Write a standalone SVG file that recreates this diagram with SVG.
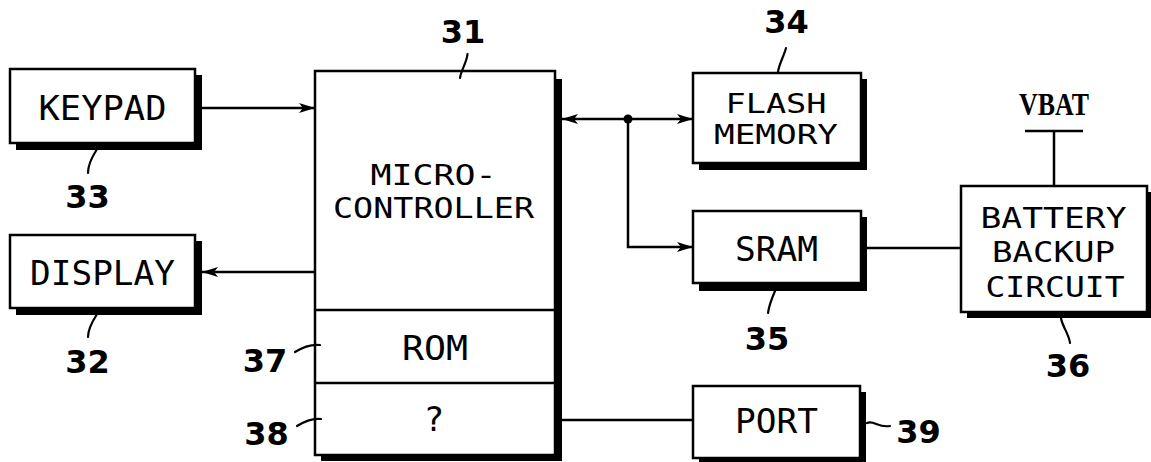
<svg xmlns="http://www.w3.org/2000/svg" width="1151" height="462" viewBox="0 0 1151 462">
  <style>
    .box { fill: #fff; stroke: #000; stroke-width: 2.5; }
    .shadow { fill: #000; }
    .line { fill: none; stroke: #000; stroke-width: 2.5; }
    .lead { fill: none; stroke: #000; stroke-width: 2.2; stroke-linecap: round; }
    .lbl { font-family: "DejaVu Sans Mono", "Liberation Mono", monospace; font-size: 34px; text-anchor: middle; fill: #000; }
    .lbl2 { font-family: "DejaVu Sans Mono", "Liberation Mono", monospace; font-size: 29px; text-anchor: middle; fill: #000; }
    .lbl3 { font-family: "DejaVu Sans Mono", "Liberation Mono", monospace; font-size: 27px; text-anchor: middle; fill: #000; }
    .num { font-family: "DejaVu Sans", "Liberation Sans", sans-serif; font-weight: bold; font-size: 32px; text-anchor: middle; fill: #000; }
    .vbat { font-family: "Liberation Serif", "DejaVu Serif", serif; font-weight: bold; font-size: 32px; text-anchor: middle; fill: #000; }
  </style>
  <defs>
    <marker id="arr" markerUnits="userSpaceOnUse" viewBox="0 0 16 10" refX="16" refY="5" markerWidth="16" markerHeight="10" orient="auto-start-reverse">
      <path d="M0,0 L16,5 L0,10 L4,5 z" fill="#000"/>
    </marker>
  </defs>

  <g id="keypad">
    <rect class="shadow" x="16" y="75" width="186" height="75"/>
    <rect class="box" x="10" y="69" width="185" height="74"/>
    <text class="lbl" x="102.5" y="120" textLength="128" lengthAdjust="spacingAndGlyphs">KEYPAD</text>
    <path class="lead" d="M96.5,150 C92,157 88,165 88,173"/>
    <text class="num" x="87.5" y="208">33</text>
  </g>

  <g id="display">
    <rect class="shadow" x="16" y="241" width="186" height="74"/>
    <rect class="box" x="10" y="235" width="185" height="73"/>
    <text class="lbl" x="102.5" y="285" textLength="145" lengthAdjust="spacingAndGlyphs">DISPLAY</text>
    <path class="lead" d="M96.5,315 C92,322 88,329 88,337"/>
    <text class="num" x="87.5" y="373">32</text>
  </g>

  <g id="microcontroller">
    <rect class="shadow" x="321" y="79" width="241" height="382"/>
    <rect class="box" x="315" y="71" width="240" height="384"/>
    <line class="line" x1="315" y1="310" x2="555" y2="310"/>
    <line class="line" x1="315" y1="383" x2="555" y2="383"/>
    <text class="lbl2" x="433.5" y="185" textLength="126" lengthAdjust="spacingAndGlyphs">MICRO-</text>
    <text class="lbl2" x="433.5" y="218" textLength="201" lengthAdjust="spacingAndGlyphs">CONTROLLER</text>
    <path class="lead" d="M467.5,54 C467,62 461,70 460,78"/>
    <text class="num" x="463" y="43">31</text>
  </g>

  <g id="rom">
    <text class="lbl" x="435" y="360" textLength="66" lengthAdjust="spacingAndGlyphs">ROM</text>
    <path class="lead" d="M295,352 C303,347 312,344 320,345"/>
    <text class="num" x="265" y="372">37</text>
  </g>

  <g id="unknown">
    <text class="lbl" x="434" y="431">?</text>
    <path class="lead" d="M297,426 C305,421 313,418 321,419"/>
    <text class="num" x="266.5" y="445">38</text>
  </g>

  <g id="flash">
    <rect class="shadow" x="699" y="79" width="168" height="91"/>
    <rect class="box" x="693" y="73" width="168" height="90"/>
    <text class="lbl3" x="776" y="113" textLength="101" lengthAdjust="spacingAndGlyphs">FLASH</text>
    <text class="lbl3" x="776" y="144" textLength="124" lengthAdjust="spacingAndGlyphs">MEMORY</text>
    <path class="lead" d="M786,48 C784,56 779,64 778,72"/>
    <text class="num" x="786.5" y="33">34</text>
  </g>

  <g id="sram">
    <rect class="shadow" x="699" y="217" width="168" height="74"/>
    <rect class="box" x="693" y="211" width="168" height="72"/>
    <text class="lbl" x="776.5" y="261" textLength="83" lengthAdjust="spacingAndGlyphs">SRAM</text>
    <path class="lead" d="M775,291 C772,298 769,305 768,313"/>
    <text class="num" x="767" y="350">35</text>
  </g>

  <g id="battery">
    <rect class="shadow" x="967" y="192" width="186" height="126"/>
    <rect class="box" x="961" y="186" width="186" height="126"/>
    <text class="lbl2" x="1053.5" y="228" textLength="146" lengthAdjust="spacingAndGlyphs">BATTERY</text>
    <text class="lbl2" x="1053.5" y="262" textLength="123" lengthAdjust="spacingAndGlyphs">BACKUP</text>
    <text class="lbl2" x="1055" y="297" textLength="139" lengthAdjust="spacingAndGlyphs">CIRCUIT</text>
    <path class="lead" d="M1061,318 C1062,326 1069,334 1070,343"/>
    <text class="num" x="1068" y="377">36</text>
  </g>

  <g id="vbat">
    <text class="vbat" x="1054" y="115" textLength="70" lengthAdjust="spacingAndGlyphs">VBAT</text>
    <line class="line" x1="1025" y1="131" x2="1083" y2="131"/>
    <line class="line" x1="1054" y1="131" x2="1054" y2="186"/>
  </g>

  <g id="port">
    <rect class="shadow" x="699" y="392" width="167" height="72"/>
    <rect class="box" x="693" y="386" width="167" height="72"/>
    <text class="lbl" x="776.5" y="433" textLength="83" lengthAdjust="spacingAndGlyphs">PORT</text>
    <path class="lead" d="M867,423 C874,420 878,428 890,426"/>
    <text class="num" x="918.5" y="443">39</text>
  </g>

  <g id="connectors">
    <line class="line" x1="202" y1="108" x2="315" y2="108" marker-end="url(#arr)"/>
    <line class="line" x1="315" y1="272" x2="202" y2="272" marker-end="url(#arr)"/>
    <line class="line" x1="562" y1="119" x2="693" y2="119" marker-start="url(#arr)" marker-end="url(#arr)"/>
    <circle cx="628" cy="119" r="4.5" fill="#000"/>
    <polyline class="line" points="628,119 628,247 693,247" marker-end="url(#arr)"/>
    <line class="line" x1="867" y1="248" x2="961" y2="248"/>
    <line class="line" x1="562" y1="420" x2="693" y2="420"/>
  </g>
</svg>
